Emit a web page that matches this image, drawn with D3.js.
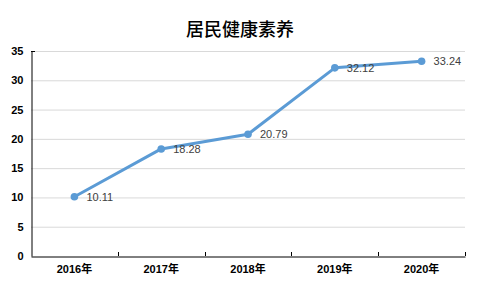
<!DOCTYPE html>
<html><head><meta charset="utf-8">
<script src="https://cdn.jsdelivr.net/npm/d3@7/dist/d3.min.js"></script>
<style>body{margin:0;background:#fff;}svg{display:block;}</style>
</head><body>
<script>
const categories = ["2016年","2017年","2018年","2019年","2020年"];
const values = [10.11, 18.28, 20.79, 32.12, 33.24];
const yTicks = [0,5,10,15,20,25,30,35];
const title = "居民健康素养";

(function(){
const W=480,H=288, mL=31, mR=465, mT=51, mB=256;
const svg=d3.select("body").append("svg").attr("width",W).attr("height",H);
const x=d3.scaleBand().domain(categories).range([mL,mR]);
const y=d3.scaleLinear().domain([0,35]).range([mB,mT]);
const font='"Liberation Sans","Noto Sans CJK SC",sans-serif';

svg.append("text").attr("x",240).attr("y",36).attr("text-anchor","middle")
  .attr("font-family",'"Noto Sans CJK SC",sans-serif').attr("font-size",18).attr("font-weight","500").attr("fill","#000").text(title);

svg.append("g").selectAll("line").data(yTicks.filter(d=>d>0)).join("line")
  .attr("x1",mL).attr("x2",mR).attr("y1",d=>y(d)+0.5).attr("y2",d=>y(d)+0.5)
  .attr("stroke","#d9d9d9").attr("stroke-width",1);

const ya=svg.append("g").attr("transform",`translate(${mL+0.5},0)`)
  .call(d3.axisLeft(y).tickValues(yTicks).tickSize(0).tickPadding(8));
ya.select(".domain").attr("stroke","#000");
ya.selectAll("text").attr("font-family",font).attr("font-size",11).attr("font-weight","bold").attr("fill","#000");
svg.append("line").attr("x1",mL).attr("x2",mL+4).attr("y1",mT+0.5).attr("y2",mT+0.5).attr("stroke","#000");

const xa=svg.append("g").attr("transform",`translate(0,${mB+0.5})`)
  .call(d3.axisBottom(x).tickSize(0).tickPadding(9));
xa.select(".domain").attr("stroke","#000");
xa.selectAll("text").attr("font-family",font).attr("font-size",11).attr("font-weight","bold").attr("fill","#000");
const bounds=categories.map(c=>x(c)).concat([mR]).slice(1);
svg.append("g").selectAll("line").data(bounds).join("line")
  .attr("x1",d=>Math.round(d)+0.5).attr("x2",d=>Math.round(d)+0.5).attr("y1",mB).attr("y2",mB-4).attr("stroke","#000");

const cx=c=>x(c)+x.bandwidth()/2;
const line=d3.line().x((d,i)=>cx(categories[i])).y(d=>y(d));
svg.append("path").datum(values).attr("d",line).attr("fill","none").attr("stroke","#5B9BD5").attr("stroke-width",3).attr("stroke-linejoin","round");
svg.append("g").selectAll("circle").data(values).join("circle")
  .attr("cx",(d,i)=>cx(categories[i])).attr("cy",d=>y(d)).attr("r",3.8).attr("fill","#5B9BD5");
svg.append("g").selectAll("text").data(values).join("text")
  .attr("x",(d,i)=>cx(categories[i])+12).attr("y",d=>y(d)+4)
  .attr("font-family",font).attr("font-size",11).attr("fill","#404040").text(d=>d.toFixed(2));
})();
</script>
</body></html>
